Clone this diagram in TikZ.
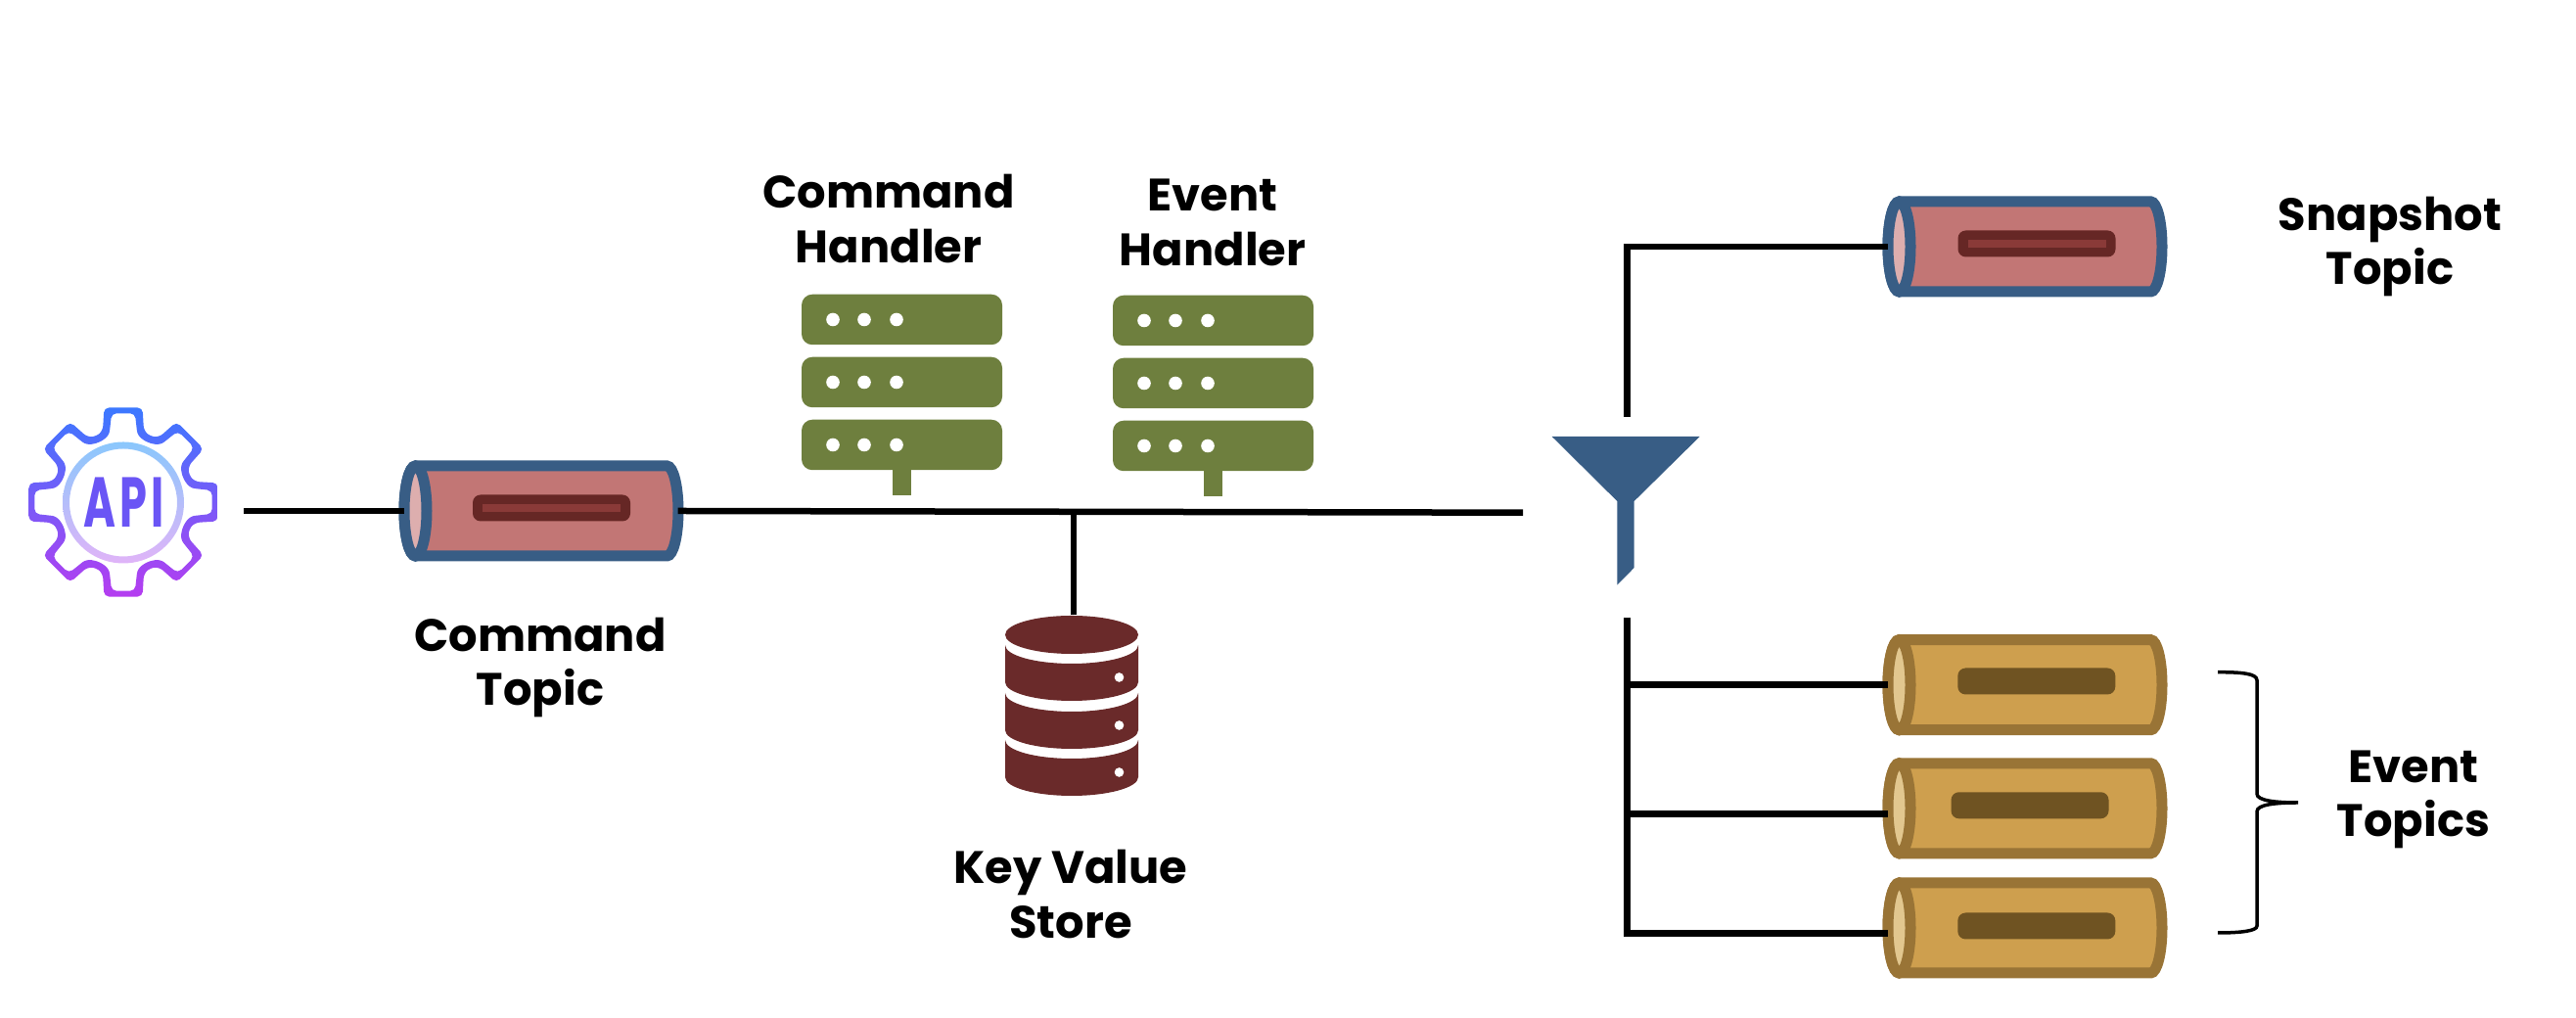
\documentclass[tikz,border=0pt]{standalone}
\usepackage{fontspec}
\setmainfont{Poppins}
\definecolor{rimblue}{HTML}{385D85}
\definecolor{redbody}{HTML}{C27675}
\definecolor{redcap}{HTML}{DDAEAE}
\definecolor{redslot}{HTML}{662725}
\definecolor{redline}{HTML}{8A3A38}
\definecolor{rimgold}{HTML}{997436}
\definecolor{goldbody}{HTML}{CE9F4E}
\definecolor{goldcap}{HTML}{E2C78F}
\definecolor{goldslot}{HTML}{6F5322}
\definecolor{rackgreen}{HTML}{6E7F3E}
\definecolor{dbred}{HTML}{6A2A2A}
\definecolor{apitext}{HTML}{6A55F5}
\definecolor{geartop}{HTML}{3B78FF}
\definecolor{gearmid}{HTML}{6D57F5}
\definecolor{gearbot}{HTML}{B53DF0}
\definecolor{ringtop}{HTML}{8AC7FC}
\definecolor{ringmid}{HTML}{B0BFFC}
\definecolor{ringbot}{HTML}{E0B4F8}
\tikzset{
  wire/.style={line width=0.065cm, black},
  caption/.style={font=\fontsize{13.2}{15.8}\selectfont\bfseries, align=center, inner sep=0pt},
  topicbox/.style={rectangle, minimum width=2.78cm, minimum height=1.02cm, inner sep=0pt},
  rackrow/.style={rectangle, rounded corners=0.11cm, fill=rackgreen, minimum width=2.05cm, minimum height=0.515cm, inner sep=0pt},
  slotbar/.style={rectangle, rounded corners=0.08cm, minimum width=1.61cm, minimum height=0.27cm, inner sep=0pt},
  pics/topic/.style n args={3}{code={
    \node[topicbox] (-box) at (0,0) {};
    \filldraw[fill=#1, draw=#2, line width=0.11cm] (-1.285,0.46) -- (1.285,0.46)
      arc[start angle=90, end angle=-90, x radius=0.115, y radius=0.46]
      -- (-1.285,-0.46) arc[start angle=270, end angle=90, x radius=0.115, y radius=0.46] -- cycle;
    \filldraw[fill=#3, draw=#2, line width=0.11cm] (-1.285,0) ellipse [x radius=0.115, y radius=0.46];
  }},
  pics/rack/.style={code={
    \foreach \r/\ry in {1/0.64, 2/0, 3/-0.64} {
      \node[rackrow] (-row\r) at (0,\ry) {};
      \foreach \dx in {-0.705, -0.385, -0.055}
        \fill[white] (\dx,\ry) circle (0.068);
    }
    \fill[rackgreen] (-0.0975,-0.88) rectangle (0.0975,-1.16);
  }},
}
\newcommand{\gearline}[5]{% tip radius, shoulder radius, valley radius, tip angle, shoulder angle
  (90+#4:#1) \foreach \a in {90,45,...,-180} {
    -- (\a-#4:#1) -- (\a-#5:#2) -- (\a-22.5:#3) -- (\a-45+#5:#2) -- (\a-45+#4:#1)
  } -- (135-#4:#1) -- (135-#5:#2) -- (112.5:#3) -- (90+#5:#2) -- cycle}
\begin{document}
\begin{tikzpicture}
  \useasboundingbox (0,0.01) rectangle (26.32,10.41);
  % api gear
  \shade[shift={(1.26,5.28)}, even odd rule, rounded corners=0.05cm,
    top color=geartop, middle color=gearmid, bottom color=gearbot]
    \gearline{0.985}{0.76}{0.725}{11.5}{16} \gearline{0.915}{0.695}{0.655}{7.5}{12};
  \shade[even odd rule, top color=ringtop, middle color=ringmid, bottom color=ringbot]
    (1.26,5.275) circle (0.62) (1.26,5.275) circle (0.55);
  \node[font=\fontsize{20.5}{20.5}\selectfont\bfseries\addfontfeature{LetterSpace=9}, text=apitext, xscale=0.62, inner sep=0pt] (api) at (1.27,5.28) {API};
  \coordinate (apiout) at (2.49,5.19);

  % topics
  \pic (cmd) at (5.53,5.19) {topic={redbody}{rimblue}{redcap}};
  \pic (snap) at (20.69,7.89) {topic={redbody}{rimblue}{redcap}};
  \pic (ev1) at (20.69,3.413) {topic={goldbody}{rimgold}{goldcap}};
  \pic (ev2) at (20.69,2.152) {topic={goldbody}{rimgold}{goldcap}};
  \pic (ev3) at (20.69,0.93) {topic={goldbody}{rimgold}{goldcap}};
  \foreach \t/\dx in {cmd/0.105, snap/0.12} {
    \node[slotbar, fill=redslot] (\t slot) at ([xshift=\dx cm, yshift=0.03cm]\t-box.center) {};
    \node[rectangle, fill=redline, minimum width=1.41cm, minimum height=0.08cm, inner sep=0pt] (\t mark) at (\t slot) {};
  }
  \foreach \t/\dx/\dy in {ev1/0.118/0.037, ev2/0.05/0.03, ev3/0.118/0.02}
    \node[slotbar, fill=goldslot] (\t slot) at ([xshift=\dx cm, yshift=\dy cm]\t-box.center) {};

  % handlers
  \pic (cmdrack) at (9.215,6.505) {rack};
  \pic (evrack) at (12.395,6.495) {rack};

  % store
  \node[rectangle, minimum width=1.36cm, minimum height=1.85cm, inner sep=0pt] (db) at (10.95,3.195) {};
  \begin{scope}[shift={(db.center)}]
    \fill[dbred] (0,0.73) ellipse [x radius=0.68, y radius=0.195];
    \foreach \y in {0.625, 0.135, -0.345} {
      \fill[dbred] (-0.68,\y) arc[start angle=180, end angle=360, x radius=0.68, y radius=0.19]
        -- ++(0,-0.38) arc[start angle=0, end angle=-180, x radius=0.68, y radius=0.19] -- cycle;
      \fill[white] (0.485,\y-0.33) circle (0.048);
    }
  \end{scope}

  % funnel
  \fill[rimblue] (15.857,5.95) -- (17.367,5.95) -- (16.697,5.29) -- (16.697,4.61) -- (16.523,4.433) -- (16.523,5.29) -- cycle;

  % wires
  \coordinate (busend) at (15.56,5.173);
  \coordinate (dbtap) at (10.97,5.18);
  \coordinate (splitup) at (16.625,6.15);
  \coordinate (splitlow) at (16.625,4.10);
  \coordinate (ev2in) at ([yshift=-0.059cm]ev2-box.west);
  \coordinate (ev3in) at ([yshift=-0.057cm]ev3-box.west);
  \draw[wire] (apiout) -- (cmd-box.west);
  \draw[wire] (cmd-box.east) -- (busend);
  \draw[wire] (dbtap) -- (dbtap |- db.north);
  \draw[wire] (splitup) |- (snap-box.west);
  \draw[wire] (splitlow) |- (ev3in);
  \draw[wire] (splitlow |- ev1-box.west) -- (ev1-box.west);
  \draw[wire] (splitlow |- ev2in) -- (ev2in);

  % brace
  \draw[line width=0.035cm] (22.66,3.543) .. controls (22.9,3.543) and (23.06,3.53) .. (23.06,3.46) -- (23.06,2.30)
    .. controls (23.06,2.23) and (23.25,2.21) .. (23.48,2.21) .. controls (23.25,2.21) and (23.06,2.19) .. (23.06,2.12)
    -- (23.06,0.95) .. controls (23.06,0.9) and (22.9,0.88) .. (22.66,0.88);

  % captions
  \node[caption] (cmdname) at (5.52,3.59) {Command\\Topic};
  \node[caption] (cmdrackname) at (9.08,8.175) {Command\\Handler};
  \node[caption] (evrackname) at (12.39,8.135) {Event\\Handler};
  \node[caption] (snapname) at (24.42,7.89) {Snapshot\\Topic};
  \node[caption] (evname) at (24.66,2.24) {Event\\Topics};
  \node[caption] (dbname) at (10.94,1.275) {Key Value\\Store};
\end{tikzpicture}
\end{document}
